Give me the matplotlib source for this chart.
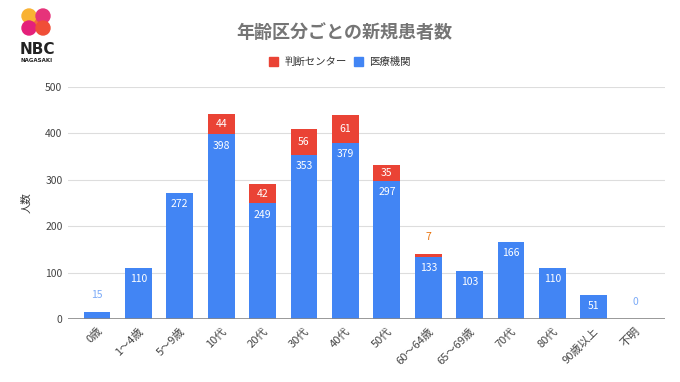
import numpy as np
import matplotlib.pyplot as plt
from matplotlib.patches import Circle, Polygon

plt.rcParams['font.family'] = ['Noto Sans CJK JP', 'DejaVu Sans']

categories = ['0歳', '1〜4歳', '5〜9歳', '10代', '20代', '30代', '40代', '50代',
              '60〜64歳', '65〜69歳', '70代', '80代', '90歳以上', '不明']
iryo = [15, 110, 272, 398, 249, 353, 379, 297, 133, 103, 166, 110, 51, 0]
handan = [0, 0, 0, 44, 42, 56, 61, 35, 7, 0, 0, 0, 0, 0]

blue = '#4285f4'
red = '#ea4335'
grey = '#757575'

fig = plt.figure(figsize=(6.8, 3.82), dpi=100)
ax = fig.add_axes([0.1, 0.165, 0.878, 0.607])

x = np.arange(len(categories))
w = 0.65
ax.bar(x, iryo, w, color=blue, zorder=2)
ax.bar(x, handan, w, bottom=iryo, color=red, zorder=2)

for i, (b, r) in enumerate(zip(iryo, handan)):
    if b >= 50:
        ax.annotate(str(b), (i, b), xytext=(0, -8), textcoords='offset points',
                    ha='center', va='center', color='white', fontsize=7.5, zorder=3)
    else:
        ax.annotate(str(b), (i, b + r), xytext=(0, 12), textcoords='offset points',
                    ha='center', va='center', color='#7baaf7', fontsize=7.5, zorder=3)
    if r >= 20:
        ax.text(i, b + r / 2, str(r), ha='center', va='center', color='white',
                fontsize=7.5, zorder=3)
    elif r > 0:
        ax.annotate(str(r), (i, b + r), xytext=(0, 12), textcoords='offset points',
                    ha='center', va='center', color='#e8710a', fontsize=7.5, zorder=3)

ax.set_xlim(-0.7, 13.72)
ax.set_ylim(0, 500)
ax.set_yticks([0, 100, 200, 300, 400, 500])
ax.yaxis.grid(True, color='#dddddd', lw=0.8, zorder=0)
ax.axhline(0, color='#888888', lw=1.2, zorder=3)
for s in ax.spines.values():
    s.set_visible(False)
ax.tick_params(axis='both', length=0, colors='#444444', labelsize=7.5)
ax.tick_params(axis='y', pad=4)
ax.tick_params(axis='x', pad=5, labelsize=8)
ax.set_xticks(x)
ax.set_xticklabels(categories, rotation=45, ha='right', rotation_mode='anchor')
ax.set_ylabel('人数', fontsize=7.5, color='#333333', labelpad=10)

fig.text(0.507, 0.914, '年齢区分ごとの新規患者数', ha='center', va='center',
         fontsize=13, fontweight='bold', color=grey)

# legend
fig.patches.append(plt.Rectangle((0.395, 0.826), 0.014, 0.025, color=red,
                                 transform=fig.transFigure, figure=fig))
fig.text(0.418, 0.838, '判断センター', ha='left', va='center', fontsize=7.5, color='#333333')
fig.patches.append(plt.Rectangle((0.52, 0.826), 0.014, 0.025, color=blue,
                                 transform=fig.transFigure, figure=fig))
fig.text(0.543, 0.838, '医療機関', ha='left', va='center', fontsize=7.5, color='#333333')

# logo
lax = fig.add_axes([0, 0.8, 0.1, 0.2])
lax.set_xlim(0, 68)
lax.set_ylim(76.4, 0)
lax.axis('off')
lax.add_patch(Polygon([(24, 12), (34, 12), (48, 32), (38, 32)], color='#f26b3a'))
lax.add_patch(Circle((29, 16), 7, color='#f9b233'))
lax.add_patch(Circle((43, 16), 7, color='#e6337a'))
lax.add_patch(Circle((29, 28), 7, color='#e4207a'))
lax.add_patch(Circle((43, 28), 7, color='#f04e37'))
lax.text(37, 49, 'NBC', ha='center', va='center', fontsize=11, color='#222222',
         family='DejaVu Sans', fontweight='bold')
lax.text(37, 60, 'NAGASAKI', ha='center', va='center', fontsize=4, color='#222222',
         fontweight='bold', family='DejaVu Sans')

fig.savefig('out.png', dpi=100)
